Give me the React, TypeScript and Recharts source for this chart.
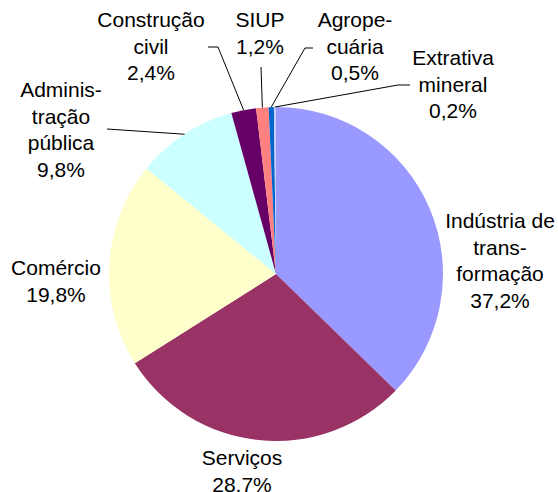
import { PieChart, Pie, Cell } from "recharts";

// Participação setorial (%), ordem horária a partir das 12h
const categories = [
  "Indústria de transformação",
  "Serviços",
  "Comércio",
  "Administração pública",
  "Construção civil",
  "SIUP",
  "Agropecuária",
  "Extrativa mineral",
];
const shares = [37.2, 28.7, 19.8, 9.8, 2.4, 1.2, 0.5, 0.2];
// rótulos quebrados como no original
const labelLines = [
  ["Indústria de", "trans-", "formação"],
  ["Serviços"],
  ["Comércio"],
  ["Adminis-", "tração", "pública"],
  ["Construção", "civil"],
  ["SIUP"],
  ["Agrope-", "cuária"],
  ["Extrativa", "mineral"],
];

// Excel 2003 default pie palette
const COLORS = [
  "#9999FF",
  "#993366",
  "#FFFFCC",
  "#CCFFFF",
  "#660066",
  "#FF8080",
  "#0066CC",
  "#CCCCFF",
];

// label placement relative to pie centre: text x, first baseline y, leader start/elbow
const LABEL_LAYOUT: {
  x: number;
  y: number;
  lead?: [number, number];
  elbow?: [number, number];
}[] = [
  { x: 224, y: -46 },
  { x: -34, y: 191 },
  { x: -220, y: 1 },
  { x: -215, y: -177, lead: [-169, -145] },
  { x: -125, y: -247, lead: [-68, -227], elbow: [-58, -227] },
  { x: -16, y: -247, lead: [-15, -207] },
  { x: 79, y: -247, lead: [37, -226], elbow: [29, -226] },
  { x: 177, y: -209, lead: [134, -189], elbow: [122, -189] },
];

const data = categories.map((name, i) => ({ name, value: shares[i] }));

const FONT = "'Liberation Sans', Arial, sans-serif";
const LINE_H = 26.7;
const RAD = Math.PI / 180;

function renderLabel(props: any) {
  const { cx, cy, midAngle, outerRadius, index } = props;
  const lay = LABEL_LAYOUT[index];
  const lines = [
    ...labelLines[index],
    shares[index].toFixed(1).replace(".", ",") + "%",
  ];
  const tx = cx + lay.x;
  const ty = cy + lay.y;
  let leader = null;
  if (lay.lead) {
    const px = cx + outerRadius * Math.cos(-midAngle * RAD);
    const py = cy + outerRadius * Math.sin(-midAngle * RAD);
    const pts = [[cx + lay.lead[0], cy + lay.lead[1]]];
    if (lay.elbow) pts.push([cx + lay.elbow[0], cy + lay.elbow[1]]);
    pts.push([px, py]);
    leader = (
      <polyline
        points={pts.map((p) => p.join(",")).join(" ")}
        fill="none"
        stroke="#000"
        strokeWidth={1}
      />
    );
  }
  return (
    <g key={`lbl-${index}`}>
      {leader}
      <text
        x={tx}
        y={ty}
        textAnchor="middle"
        fill="#000"
        fontSize={21}
        fontFamily={FONT}
      >
        {lines.map((l, j) => (
          <tspan key={j} x={tx} y={ty + j * LINE_H}>
            {l}
          </tspan>
        ))}
      </text>
    </g>
  );
}

export default function App() {
  return (
    <div style={{ width: 558, height: 492, background: "#fff" }}>
      <style>{`body{margin:0}`}</style>
      <PieChart
        width={558}
        height={492}
        margin={{ top: 0, right: 0, bottom: 0, left: 0 }}
      >
        <Pie
          data={data}
          dataKey="value"
          nameKey="name"
          cx={276}
          cy={274}
          outerRadius={167}
          startAngle={90}
          endAngle={-270}
          stroke="none"
          label={renderLabel}
          labelLine={false}
          isAnimationActive={false}
        >
          {data.map((d, i) => (
            <Cell key={d.name} fill={COLORS[i]} />
          ))}
        </Pie>
      </PieChart>
    </div>
  );
}
